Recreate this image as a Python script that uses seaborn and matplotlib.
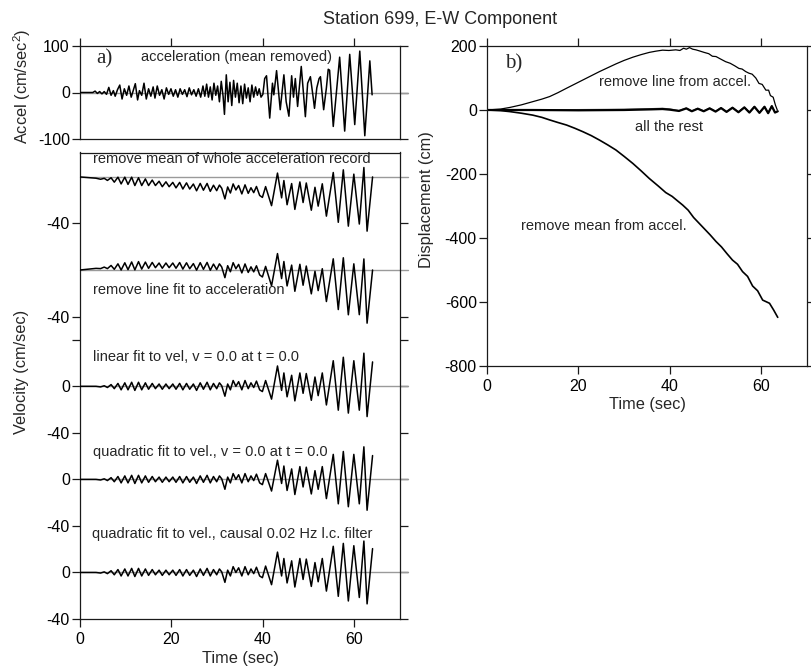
import matplotlib
matplotlib.use("Agg")
import matplotlib.pyplot as plt
import seaborn as sns

# ---------------- data ----------------
accel_time = [0, 2.8, 3.3, 3.8, 4.3, 4.8, 5.3, 5.8, 6.3, 6.8,
              7.3, 7.7, 8.2, 8.7, 9.2, 9.7, 10.2, 10.7, 11.2, 11.7,
              12.1, 12.6, 13.0, 13.5, 14.0, 14.5, 15.0, 15.5, 16.0, 16.4,
              16.9, 17.4, 17.9, 18.4, 18.9, 19.4, 19.9, 20.4, 20.9, 21.4,
              21.9, 22.4, 22.9, 23.4, 23.9, 24.4, 24.9, 25.4, 25.9, 26.4,
              26.9, 27.3, 27.7, 28.1, 28.5, 28.9, 29.3, 29.7, 30.1, 30.5,
              30.9, 31.3, 31.6, 32.0, 32.4, 32.8, 33.2, 33.6, 34.0, 34.4,
              34.8, 35.2, 35.6, 36.0, 36.4, 36.8, 37.2, 37.6, 38.0, 38.4,
              38.8, 39.2, 39.6, 40.0, 40.4, 40.8, 41.5, 42.1, 42.4, 43.0,
              43.8, 44.3, 44.6, 45.1, 45.7, 46.3, 46.7, 47.1, 47.6, 48.4,
              49.3, 49.8, 50.4, 51.0, 51.3, 51.8, 52.3, 52.6, 53.3, 53.9,
              54.3, 54.6, 55.4, 56.8, 57.9, 59.0, 60.1, 61.2, 62.3, 63.4,
              63.9]
accel_values = [0, 0, 3, -2, 2, -3, 2, -4, 11, -6,
                4, -8, 6, 16, -14, 8, -6, 14, -10, 6,
                19, -16, 4, -6, 20, -14, 8, -8, 12, -12,
                14, -6, 6, -14, 10, -4, 8, -8, 6, -10,
                8, -4, 6, -9, 10, -5, 6, -8, 8, -10,
                14, -8, 18, -10, 12, -16, 20, -6, 14, -20,
                24, -8, -47, 38, -20, 22, -28, 26, -10, 20,
                -22, 14, -24, 18, -12, 10, -20, 16, -10, 12,
                -6, 8, -10, -4, 30, 36, -55, 20, -5, 47,
                -37, 10, 38, -20, -51, 36, -10, 30, -30, 56,
                -52, 20, 34, -10, -34, 10, 30, 34, -37, 10,
                50, 48, -73, 76, -83, 82, -69, 89, -93, 68,
                -5]

vel_time = [0, 3.5,
            4.5, 5.3, 6.0, 6.8, 7.5, 8.3, 9.0, 9.8,
            10.5, 11.3, 12.0, 12.8, 13.5, 14.3, 15.0, 15.8,
            16.5, 17.3, 18.0, 18.8, 19.5, 20.3, 21.0, 21.8,
            22.5, 23.3, 24.0, 24.8, 25.5, 26.3, 27.0, 27.8,
            28.5, 29.2, 29.9, 30.5, 31.0, 31.7, 32.3, 32.9,
            33.5, 34.1, 34.7, 35.4, 36.1, 36.8, 37.4, 38.0,
            38.6, 39.3, 39.9, 40.6, 41.9, 43.2, 44.1, 44.6,
            45.3, 46.3, 47.0, 48.1, 48.8, 49.5, 50.6, 51.4,
            52.1, 53.0, 53.9, 55.4, 56.5, 57.6, 58.7, 59.9,
            61.1, 62.1, 62.8, 64.0]
vel_mean_removed = [0, -1.1,
                    -2.0, -1.2, -3.0, -0.7, -4.5, -0.2, -6.0, -0.2,
                    -6.4, -0.2, -7.4, -0.7, -7.4, -1.7, -7.4, -2.7,
                    -7.4, -3.7, -8.4, -4.2, -8.4, -4.7, -9.4, -4.7,
                    -10.4, -5.1, -10.4, -6.1, -11.9, -5.6, -11.4, -5.6,
                    -12.4, -7.1, -11.8, -7.0, -9.7, -18.9, -8.6, -13.8,
                    -6.0, -11.2, -7.4, -14.6, -6.8, -14.1, -9.3, -13.5,
                    -8.2, -15.9, -17.6, -8.3, -24.7, 3.3, -18.0, -3.1,
                    -23.9, -5.7, -27.9, -4.3, -22.0, -5.2, -28.6, -8.9,
                    -25.1, -5.9, -33.7, 3.8, -39.0, 6.1, -42.3, 2.4,
                    -40.5, 8.1, -46.6, 0.0]
vel_line_removed = [0, 1.4,
                    1.2, 2.5, 1.2, 3.9, 0.6, 5.3, 0.0, 6.2,
                    0.3, 6.9, 0.1, 7.2, 0.8, 6.8, 1.4, 6.5,
                    2.0, 6.0, 1.5, 6.0, 2.0, 6.0, 1.5, 6.4,
                    0.8, 6.2, 1.1, 5.5, -0.1, 6.3, 0.6, 6.5,
                    -0.2, 5.1, 0.4, 5.3, 2.6, -6.6, 3.7, -1.5,
                    6.3, 1.1, 4.8, -2.5, 5.2, -2.1, 2.7, -1.6,
                    3.6, -4.2, -6.0, 3.1, -13.6, 14.1, -7.4, 7.3,
                    -13.7, 4.2, -18.3, 4.9, -13.1, 3.4, -20.5, -1.1,
                    -17.7, 1.1, -27.1, 9.6, -34.0, 10.5, -38.5, 5.3,
                    -38.4, 9.5, -45.7, 0.0]
vel_linear_fit = [0, 0,
                  -0.5, 0.5, -1, 1.5, -2, 2.5, -3, 3,
                  -3, 3.5, -3.5, 3.5, -3, 3, -2.5, 2.5,
                  -2, 2, -2.5, 2, -2, 2, -2.5, 2.5,
                  -3, 2.5, -2.5, 2, -3.5, 3, -2.5, 3.5,
                  -3, 2.5, -2, 3, 0.5, -8.5, 2, -3,
                  5, 0, 4, -3, 5, -2, 3, -1,
                  4.5, -3, -4.5, 5, -11, 17.5, -3.5, 11.5,
                  -9, 9.5, -12.5, 11.5, -6, 11, -12, 8,
                  -8, 11.5, -16, 22, -20.5, 25, -23, 22,
                  -20.5, 28.5, -26, 21]
vel_quad_fit = [0, 0,
                -0.5, 0.5, -1, 1.5, -2, 2.5, -3, 3,
                -3, 3.5, -3.5, 3.5, -3, 3, -2.5, 2.5,
                -2, 2, -2.5, 2, -2, 2, -2.5, 2.5,
                -3, 2.5, -2.5, 2, -3.5, 3, -2.5, 3.5,
                -3, 2.5, -2, 3, 0.5, -8.5, 2, -3,
                5, 0, 4, -3, 5, -2, 3, -1,
                4.5, -3, -4.5, 5, -10, 16.5, -3.5, 11.5,
                -9.5, 9, -13, 11, -6.5, 10.5, -12.5, 7.5,
                -8.5, 11, -16.5, 21.5, -21, 24, -23.5, 21.5,
                -21, 28, -26.5, 20.5]
vel_quad_filter = [0, 0,
                   -0.5, 0.5, -1, 1.5, -2, 2.5, -3, 3,
                   -3, 3.5, -3.5, 3.5, -3, 3, -2.5, 2.5,
                   -2, 2, -2.5, 2, -2, 2, -2.5, 2.5,
                   -3, 2.5, -2.5, 2, -3.5, 3, -2.5, 3.5,
                   -3, 2.5, -2, 3, 0.5, -8.5, 2, -3,
                   5, 0, 4, -3, 5, -2, 3, -1,
                   4.5, -3, -4.5, 5.5, -10.5, 17.5, -3, 12,
                   -9, 10, -12.5, 12, -6, 11.5, -12, 8.5,
                   -8, 12, -16, 22.5, -20.5, 25, -24.5, 23,
                   -21.5, 27, -27, 20.5]

disp_line_time = [0, 3, 5, 7.5, 10, 12, 13.7, 15.5, 17.4, 19.2,
                  21, 22.8, 24.6, 26.4, 28.2, 30, 31.9, 33.7, 35.5, 37,
                  38.4, 39.8, 41.3, 42.2, 43.0, 43.6, 44.3, 45.0, 45.7, 46.4,
                  47.5, 48.5, 49.3, 50.1, 51.0, 52.2, 53.2, 54.2, 55.1, 55.8,
                  56.6, 57.3, 58.0, 58.8, 59.5, 60.2, 61.0, 61.6, 62.0, 62.6,
                  63.1, 63.5]
disp_line_values = [0, 3, 8, 16, 26, 34, 42, 54, 68, 81,
                    94, 107, 120, 132, 144, 155, 165, 173, 180, 184,
                    187, 186, 188, 186, 193, 190, 195, 190, 188, 185,
                    180, 176, 168, 167, 160, 151, 146, 138, 130, 128,
                    120, 115, 112, 100, 83, 80, 62, 62, 45, 40,
                    15, 0]
disp_mean_time = [0, 3, 5, 7.5, 10, 12, 13.7, 15.5, 17.4, 19.2,
                  21, 22.8, 24.6, 26.4, 28.2, 30, 31.9, 33.7, 35.5, 37.5,
                  39.1, 40.5, 41.6, 42.8, 44.0, 45.2, 46.4, 47.6, 48.8, 50.1,
                  51.3, 52.5, 53.7, 54.8, 55.9, 57.0, 58.1, 59.2, 60.3, 61.2,
                  61.8, 62.7, 63.6]
disp_mean_values = [0, -2, -5, -10, -16, -23, -31, -39, -47, -57,
                    -68, -80, -94, -109, -125, -145, -167, -190, -214, -238,
                    -258, -270, -283, -297, -313, -336, -354, -372, -390, -411,
                    -428, -449, -469, -482, -505, -520, -550, -565, -594, -600,
                    -604, -625, -648]
disp_rest_time = [0, 10, 20, 30, 36, 38.4, 40, 42, 43.6, 44.8,
                  46.1, 47.4, 48.7, 50.0, 51.2, 52.4, 53.7, 55.0, 56.3, 57.4,
                  58.5, 59.6, 60.7, 61.5, 62.3, 63.0, 63.6]
disp_rest_a = [0, 0, -1, 0, 2, 3, 1, -3, 5, -4,
               4, -4, 5, -5, 6, -6, 7, -7, 8, -8,
               10, -9, 10, -10, 12, -8, -4]
disp_rest_b = [0, 0.5, 1, 2, 4, 5, 3, -2, 6, -3,
               5, -3, 6, -4, 7, -5, 8, -6, 9, -7,
               11, -8, 11, -9, 13, -7, -4]

vel_offsets = [340, 260, 160, 80, 0]
vel_tick_pos = [-40, 0, 40, 80, 120, 160, 200, 220, 300]
vel_tick_lab = ['-40', '0', '-40', '0', '-40', '0', '', '-40', '-40']

# ---------------- style ----------------
sns.set_style("ticks")
plt.rcParams['font.family'] = ['Liberation Sans', 'DejaVu Sans']
plt.rcParams['axes.unicode_minus'] = False
plt.rcParams['mathtext.fontset'] = 'custom'
plt.rcParams['mathtext.rm'] = 'Liberation Sans'
plt.rcParams['mathtext.it'] = 'Liberation Sans'

W, H = 812, 669
fig = plt.figure(figsize=(W / 100, H / 100), dpi=100)


def rect(l, t, r, b):
    return [l / W, 1 - b / H, (r - l) / W, (b - t) / H]


def px(x, y):
    return x / W, 1 - y / H


ax_a = fig.add_axes(rect(80, 46, 400, 139))
ax_v = fig.add_axes(rect(80, 152.5, 400, 619))
ax_d = fig.add_axes(rect(487, 46, 807, 366))

LW = 1.1
SPINE = '#1a1a1a'
GRAY = '#9a9a9a'
TFS = 11.5

for ax in (ax_a, ax_v, ax_d):
    for s in ax.spines.values():
        s.set_visible(True)
        s.set_color(SPINE)
        s.set_linewidth(0.9)
    ax.set_facecolor('white')
    ax.set_xlim(0, 70)
    ax.set_xticks([0, 20, 40, 60])
    ax.tick_params(direction='out', length=5.8, width=0.9, color=SPINE,
                   labelsize=TFS, labelcolor='black')
    ax.tick_params(axis='y', pad=1.5, left=True, right=True)
    ax.tick_params(axis='x', pad=3.5)
    ax.set_xlabel('')
    ax.set_ylabel('')

# ---- acceleration panel ----
ax_a.plot([0, 71.75], [0, 0], color=GRAY, lw=1, clip_on=False, zorder=1)
sns.lineplot(x=accel_time, y=accel_values, ax=ax_a, color='black', lw=LW,
             sort=False, estimator=None, zorder=3)
ax_a.set_ylim(-100, 100)
ax_a.set_yticks([-100, 0, 100])
ax_a.tick_params(axis='x', top=True, bottom=False, labelbottom=False, labeltop=False)
ax_a.set_xlabel('')
ax_a.set_ylabel('')

# ---- velocity panel ----
vel_series = [vel_mean_removed, vel_line_removed, vel_linear_fit,
              vel_quad_fit, vel_quad_filter]
for off in vel_offsets:
    ax_v.plot([0, 71.75], [off, off], color=GRAY, lw=1, clip_on=False, zorder=1)
for vals, off in zip(vel_series, vel_offsets):
    sns.lineplot(x=vel_time, y=[v + off for v in vals], ax=ax_v, color='black',
                 lw=LW, sort=False, estimator=None, zorder=3)
ax_v.set_ylim(-40, 361)
ax_v.set_yticks(vel_tick_pos)
ax_v.set_yticklabels(vel_tick_lab)
ax_v.tick_params(axis='x', top=False, bottom=True)
ax_v.set_xlabel('')
ax_v.set_ylabel('')

# ---- displacement panel ----
sns.lineplot(x=disp_line_time, y=disp_line_values, ax=ax_d, color='black',
             lw=0.9, sort=False, estimator=None)
sns.lineplot(x=disp_mean_time, y=disp_mean_values, ax=ax_d, color='black',
             lw=1.2, sort=False, estimator=None)
sns.lineplot(x=disp_rest_time, y=disp_rest_b, ax=ax_d, color='#555555',
             lw=1.0, sort=False, estimator=None)
sns.lineplot(x=disp_rest_time, y=disp_rest_a, ax=ax_d, color='black',
             lw=1.6, sort=False, estimator=None)
ax_d.set_ylim(-800, 200)
ax_d.set_yticks([-800, -600, -400, -200, 0, 200])
ax_d.tick_params(axis='x', top=True, bottom=True, labeltop=False)
ax_d.set_xlabel('')
ax_d.set_ylabel('')

# ---- labels and annotations ----
fig.text(*px(440, 19), 'Station 699, E-W Component', ha='center', va='center',
         fontsize=13)
fig.text(*px(22, 86), 'Accel (cm/sec$^2$)', rotation=90, ha='center',
         va='center', fontsize=11.8)
fig.text(*px(22, 372), 'Velocity (cm/sec)', rotation=90, ha='center',
         va='center', fontsize=11.8)
fig.text(*px(427, 200), 'Displacement (cm)', rotation=90, ha='center',
         va='center', fontsize=11.8)
fig.text(*px(240, 659), 'Time (sec)', ha='center', va='center', fontsize=11.8)
fig.text(*px(647, 405), 'Time (sec)', ha='center', va='center', fontsize=11.8)

fig.text(*px(96, 59), 'a)', ha='left', va='center', fontsize=15,
         family='Liberation Serif')
fig.text(*px(505, 64), 'b)', ha='left', va='center', fontsize=15,
         family='Liberation Serif')

AFS = 10.5
notes = [
    (141, 57, 'acceleration (mean removed)'),
    (93, 159, 'remove mean of whole acceleration record'),
    (93, 290, 'remove line fit to acceleration'),
    (93, 357, 'linear fit to vel, v = 0.0 at t = 0.0'),
    (93, 452, 'quadratic fit to vel., v = 0.0 at t = 0.0'),
    (92, 534, 'quadratic fit to vel., causal 0.02 Hz l.c. filter'),
    (599, 82, 'remove line from accel.'),
    (635, 127, 'all the rest'),
    (521, 226, 'remove mean from accel.'),
]
for x, y, s in notes:
    fig.text(*px(x, y), s, ha='left', va='center', fontsize=AFS)

fig.savefig('out.png', dpi=100, facecolor='white')
